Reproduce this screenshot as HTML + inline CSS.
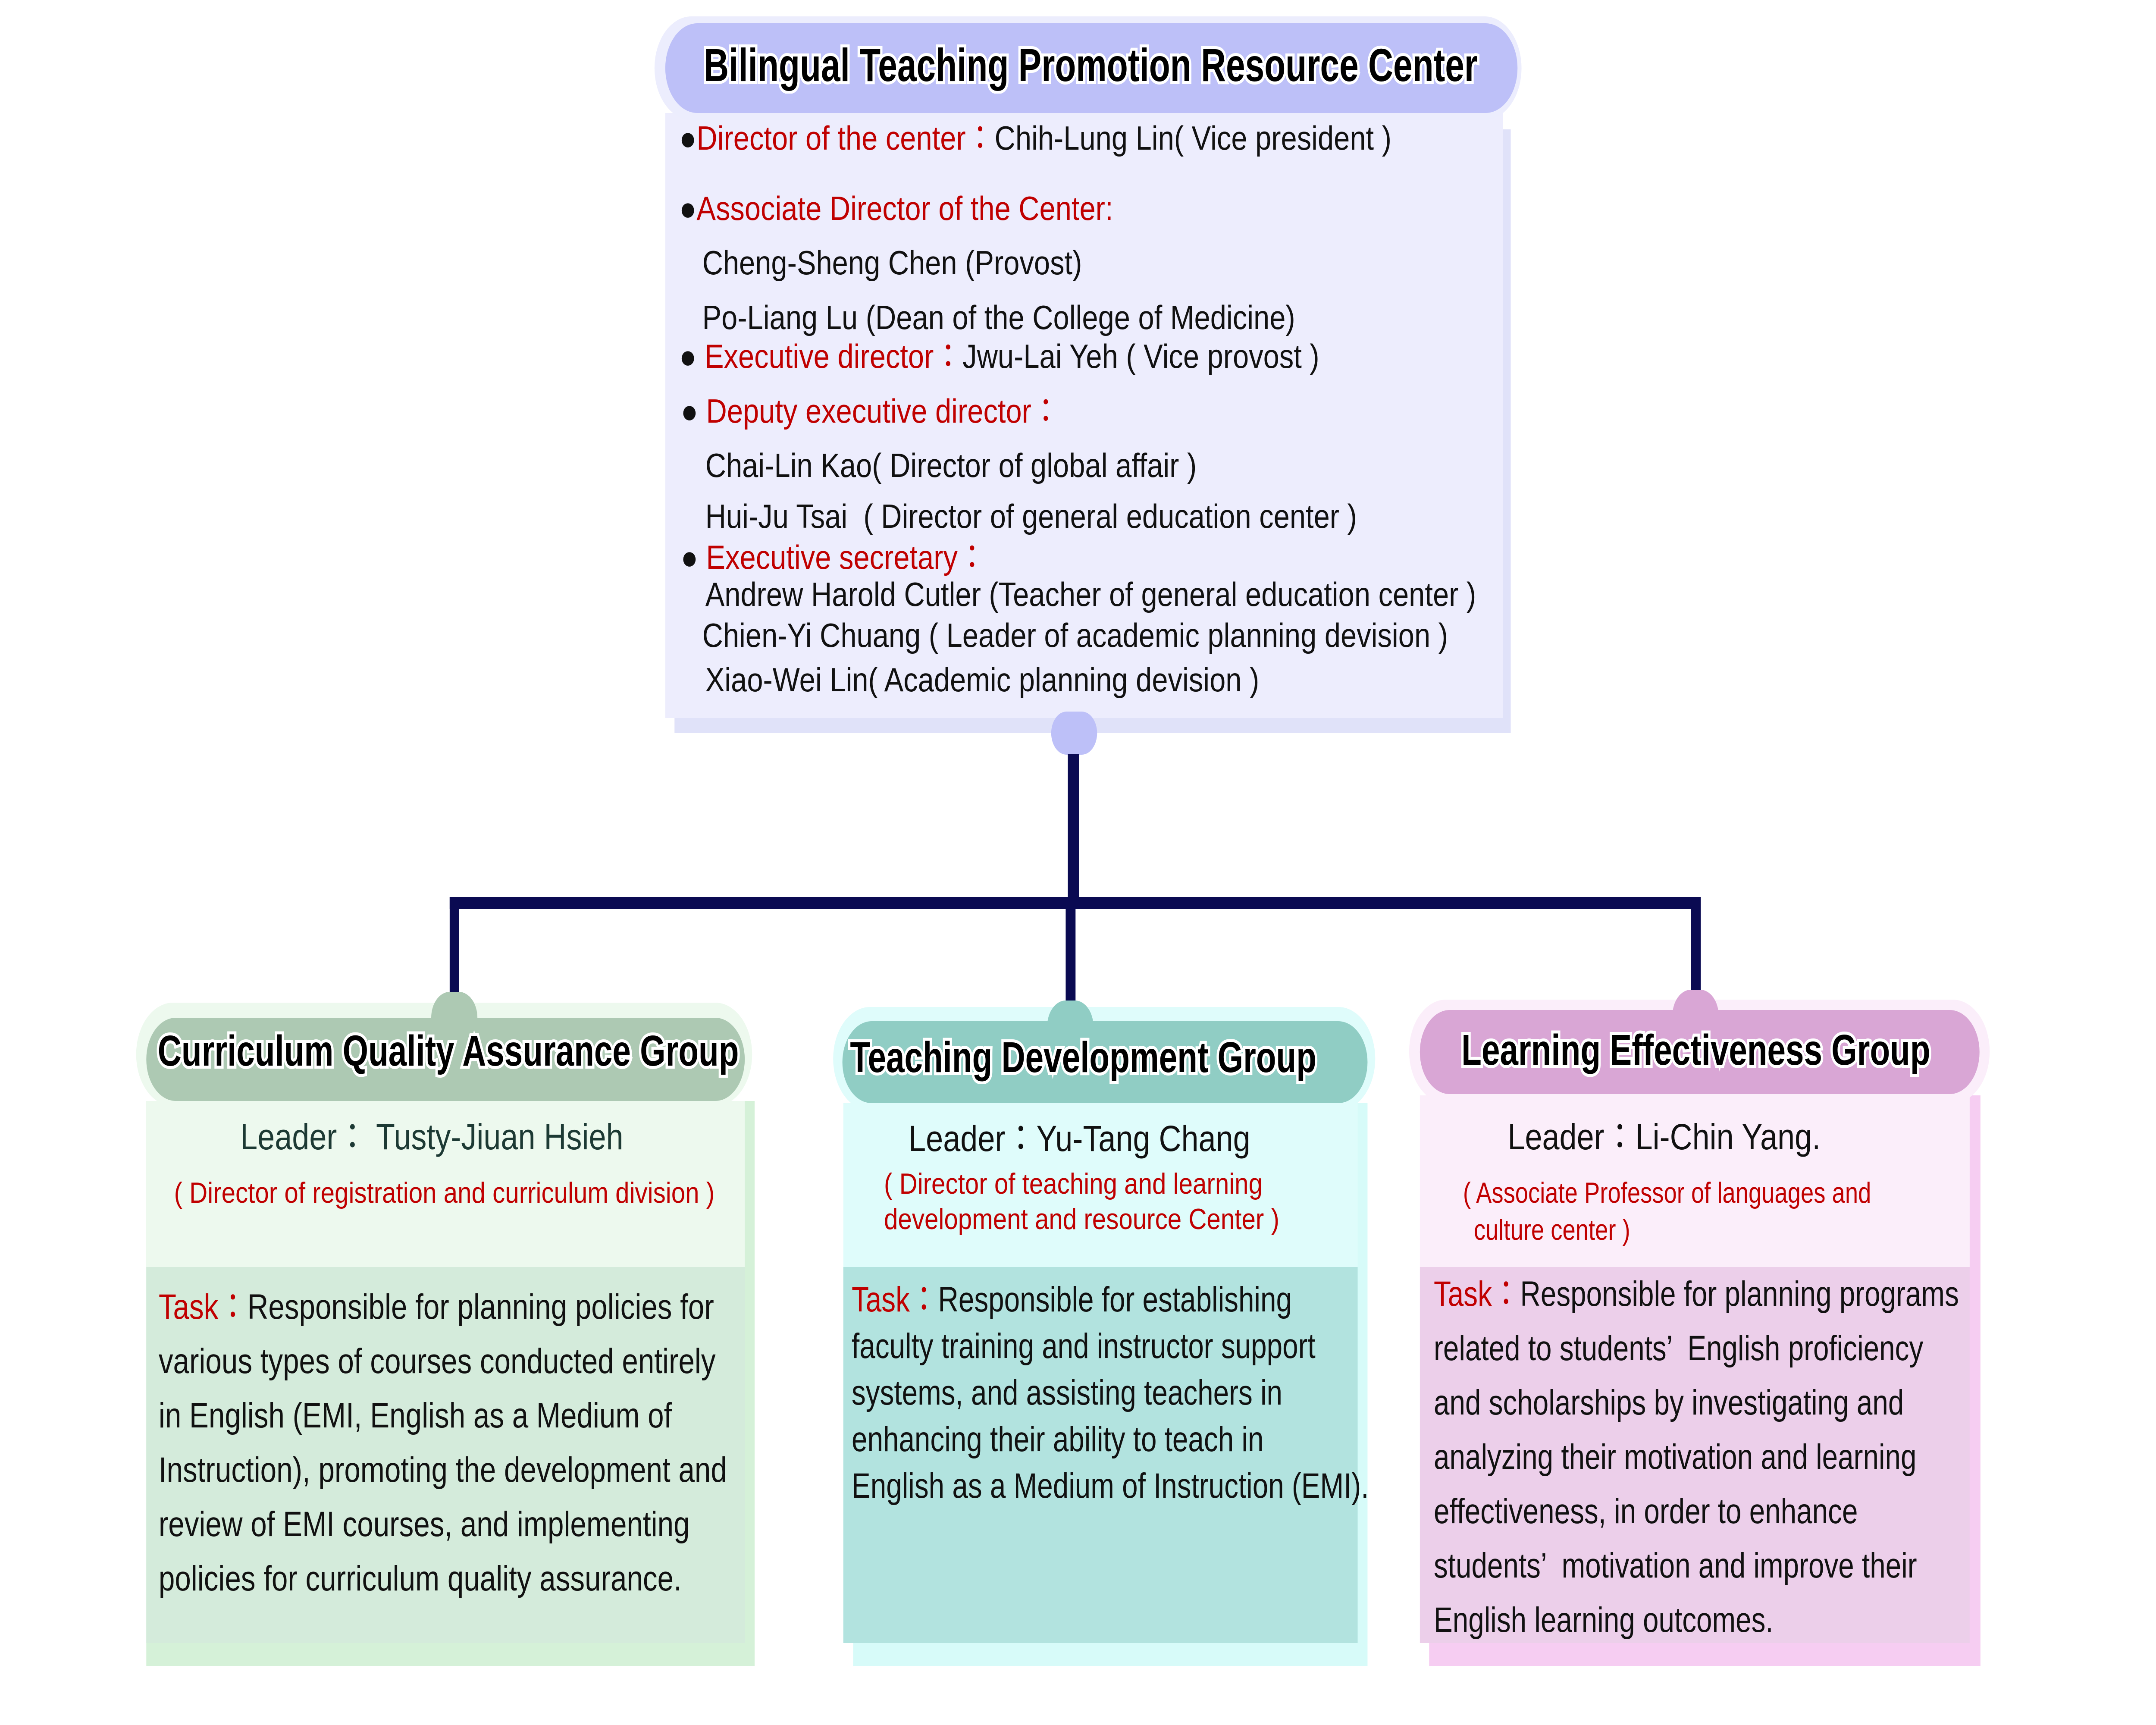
<!DOCTYPE html>
<html style="margin:0;width:100%;height:100%;overflow:hidden"><head><meta charset="utf-8"><style>
html,body{margin:0;padding:0;width:100%;height:100%;overflow:hidden;background:#fff;}
svg.root{position:fixed;left:0;top:0;width:100vw;height:100vh;display:block;}
#pg{width:7000px;height:4000px;background:#fff;position:relative;overflow:hidden;font-family:"Liberation Sans","Noto Sans CJK JP",sans-serif;}
.a{position:absolute;}
.t{position:absolute;white-space:nowrap;line-height:1.2;color:#111;transform:scaleX(1.2);transform-origin:0 0;}
.l{transform:scaleX(1.15);}
.g{transform:scaleX(1.12);}
.r{color:#c00000;}
.ttl{position:absolute;white-space:nowrap;font-weight:bold;color:#000;paint-order:stroke fill;-webkit-text-stroke:14px #fff;transform:scaleX(1.07);transform-origin:0 0;}
</style></head><body>
<svg class="root" viewBox="0 0 7000 4000" preserveAspectRatio="none" xmlns="http://www.w3.org/2000/svg">
<foreignObject x="0" y="0" width="7000" height="4000">
<div xmlns="http://www.w3.org/1999/xhtml" id="pg">
<!-- top box -->
<div class="a" style="left:2190px;top:300px;width:2715px;height:1400px;background:#e0e2f9"></div>
<div class="a" style="left:2160px;top:262px;width:2720px;height:1403px;background:#ededfd"></div>
<div class="a" style="left:2125px;top:38px;width:2815px;height:240px;border-radius:120px;background:#ecedfd"></div>
<div class="a" style="left:2160px;top:54px;width:2767px;height:208px;border-radius:104px;background:#bdc0f8"></div>
<div class="ttl" style="left:2285px;top:88px;font-size:108px;transform:scaleX(1.04)">Bilingual Teaching Promotion Resource Center</div>

<div class="t" style="left:2205px;top:274px;font-size:78px"><span>●</span><span class="r">Director of the center：</span>Chih-Lung Lin( Vice president )</div>
<div class="t" style="left:2205px;top:437px;font-size:78px"><span>●</span><span class="r">Associate Director of the Center:</span></div>
<div class="t" style="left:2280px;top:563px;font-size:78px">Cheng-Sheng Chen (Provost)</div>
<div class="t" style="left:2280px;top:690px;font-size:78px">Po-Liang Lu (Dean of the College of Medicine)</div>
<div class="t" style="left:2205px;top:780px;font-size:78px"><span>●</span><span class="r"> Executive director：</span>Jwu-Lai Yeh ( Vice provost )</div>
<div class="t" style="left:2210px;top:907px;font-size:78px"><span>●</span><span class="r"> Deputy executive director：</span></div>
<div class="t" style="left:2290px;top:1033px;font-size:78px">Chai-Lin Kao( Director of global affair )</div>
<div class="t" style="left:2290px;top:1151px;font-size:78px">Hui-Ju Tsai &nbsp;( Director of general education center )</div>
<div class="t" style="left:2210px;top:1246px;font-size:78px"><span>●</span><span class="r"> Executive secretary：</span></div>
<div class="t" style="left:2290px;top:1332px;font-size:78px">Andrew Harold Cutler (Teacher of general education center )</div>
<div class="t" style="left:2280px;top:1427px;font-size:78px">Chien-Yi Chuang ( Leader of academic planning devision )</div>
<div class="t" style="left:2290px;top:1530px;font-size:78px">Xiao-Wei Lin( Academic planning devision )</div>

<!-- connectors -->
<div class="a" style="left:3413px;top:1650px;width:149px;height:100px;border-radius:50px;background:#bdc0f8"></div>
<div class="a" style="left:3467px;top:1748px;width:36px;height:360px;background:#0a0a52"></div>
<div class="a" style="left:1460px;top:2080px;width:4060px;height:28px;background:#0a0a52"></div>
<div class="a" style="left:1460px;top:2080px;width:30px;height:250px;background:#0a0a52"></div>
<div class="a" style="left:3460px;top:2080px;width:32px;height:260px;background:#0a0a52"></div>
<div class="a" style="left:5490px;top:2080px;width:32px;height:240px;background:#0a0a52"></div>

<!-- left group -->
<div class="a" style="left:475px;top:2553px;width:1975px;height:1310px;background:#d5f1d8"></div>
<div class="a" style="left:475px;top:2553px;width:1943px;height:385px;background:#edf9ee"></div>
<div class="a" style="left:475px;top:2938px;width:1943px;height:872px;background:#d4ebdb"></div>
<div class="a" style="left:442px;top:2325px;width:2000px;height:240px;border-radius:120px;background:#edf9ee"></div>
<div class="a" style="left:1400px;top:2300px;width:150px;height:120px;border-radius:60px 60px 0 0;background:#adc9b3"></div>
<div class="a" style="left:475px;top:2360px;width:1943px;height:193px;border-radius:96px;background:#adc9b3"></div>
<div class="ttl" style="left:512px;top:2380px;font-size:100px">Curriculum Quality Assurance Group</div>
<div class="t" style="left:780px;top:2586px;font-size:84px;color:#1d3a34">Leader： Tusty-Jiuan Hsieh</div>
<div class="t r" style="left:565px;top:2726px;font-size:68px">( Director of registration and curriculum division )</div>
<div class="t l" style="left:515px;top:2982px;font-size:82px"><span class="r">Task：</span>Responsible for planning policies for</div>
<div class="t l" style="left:515px;top:3108px;font-size:82px">various types of courses conducted entirely</div>
<div class="t l" style="left:515px;top:3234px;font-size:82px">in English (EMI, English as a Medium of</div>
<div class="t l" style="left:515px;top:3360px;font-size:82px">Instruction), promoting the development and</div>
<div class="t l" style="left:515px;top:3486px;font-size:82px">review of EMI courses, and implementing</div>
<div class="t l" style="left:515px;top:3612px;font-size:82px">policies for curriculum quality assurance.</div>

<!-- middle group -->
<div class="a" style="left:2770px;top:2558px;width:1670px;height:1305px;background:#d7fbf9"></div>
<div class="a" style="left:2738px;top:2558px;width:1670px;height:380px;background:#dffcfb"></div>
<div class="a" style="left:2738px;top:2938px;width:1670px;height:872px;background:#b2e3df"></div>
<div class="a" style="left:2705px;top:2335px;width:1760px;height:240px;border-radius:120px;background:#dffcfb"></div>
<div class="a" style="left:3400px;top:2320px;width:150px;height:110px;border-radius:60px 60px 0 0;background:#90cdc4"></div>
<div class="a" style="left:2735px;top:2368px;width:1705px;height:190px;border-radius:95px;background:#90cdc4"></div>
<div class="ttl" style="left:2760px;top:2395px;font-size:100px">Teaching Development Group</div>
<div class="t" style="left:2950px;top:2590px;font-size:84px">Leader：Yu-Tang Chang</div>
<div class="t r" style="left:2870px;top:2705px;font-size:68px">( Director of teaching and learning</div>
<div class="t r" style="left:2870px;top:2787px;font-size:68px">development and resource Center )</div>
<div class="t g" style="left:2765px;top:2965px;font-size:82px"><span class="r">Task：</span>Responsible for establishing</div>
<div class="t g" style="left:2765px;top:3073px;font-size:82px">faculty training and instructor support</div>
<div class="t g" style="left:2765px;top:3181px;font-size:82px">systems, and assisting teachers in</div>
<div class="t g" style="left:2765px;top:3289px;font-size:82px">enhancing their ability to teach in</div>
<div class="t g" style="left:2765px;top:3397px;font-size:82px">English as a Medium of Instruction (EMI).</div>

<!-- right group -->
<div class="a" style="left:4640px;top:2540px;width:1790px;height:1323px;background:#f6cdf2"></div>
<div class="a" style="left:4610px;top:2540px;width:1785px;height:398px;background:#fbeefa"></div>
<div class="a" style="left:4610px;top:2938px;width:1785px;height:872px;background:#eccfea"></div>
<div class="a" style="left:4575px;top:2318px;width:1885px;height:240px;border-radius:120px;background:#fbeefa"></div>
<div class="a" style="left:5430px;top:2295px;width:150px;height:110px;border-radius:60px 60px 0 0;background:#d9a6d5"></div>
<div class="a" style="left:4610px;top:2342px;width:1817px;height:195px;border-radius:97px;background:#d9a6d5"></div>
<div class="ttl" style="left:4745px;top:2378px;font-size:100px">Learning Effectiveness Group</div>
<div class="t" style="left:4895px;top:2586px;font-size:84px">Leader：Li-Chin Yang.</div>
<div class="t r g" style="left:4750px;top:2726px;font-size:68px">( Associate Professor of languages and</div>
<div class="t r g" style="left:4785px;top:2812px;font-size:68px">culture center )</div>
<div class="t g" style="left:4655px;top:2952px;font-size:82px"><span class="r">Task：</span>Responsible for planning programs</div>
<div class="t g" style="left:4655px;top:3078px;font-size:82px">related to students’ &nbsp;English proficiency</div>
<div class="t g" style="left:4655px;top:3204px;font-size:82px">and scholarships by investigating and</div>
<div class="t g" style="left:4655px;top:3330px;font-size:82px">analyzing their motivation and learning</div>
<div class="t g" style="left:4655px;top:3456px;font-size:82px">effectiveness, in order to enhance</div>
<div class="t g" style="left:4655px;top:3582px;font-size:82px">students’ &nbsp;motivation and improve their</div>
<div class="t g" style="left:4655px;top:3708px;font-size:82px">English learning outcomes.</div>
</div>
</foreignObject>
</svg>
</body></html>
